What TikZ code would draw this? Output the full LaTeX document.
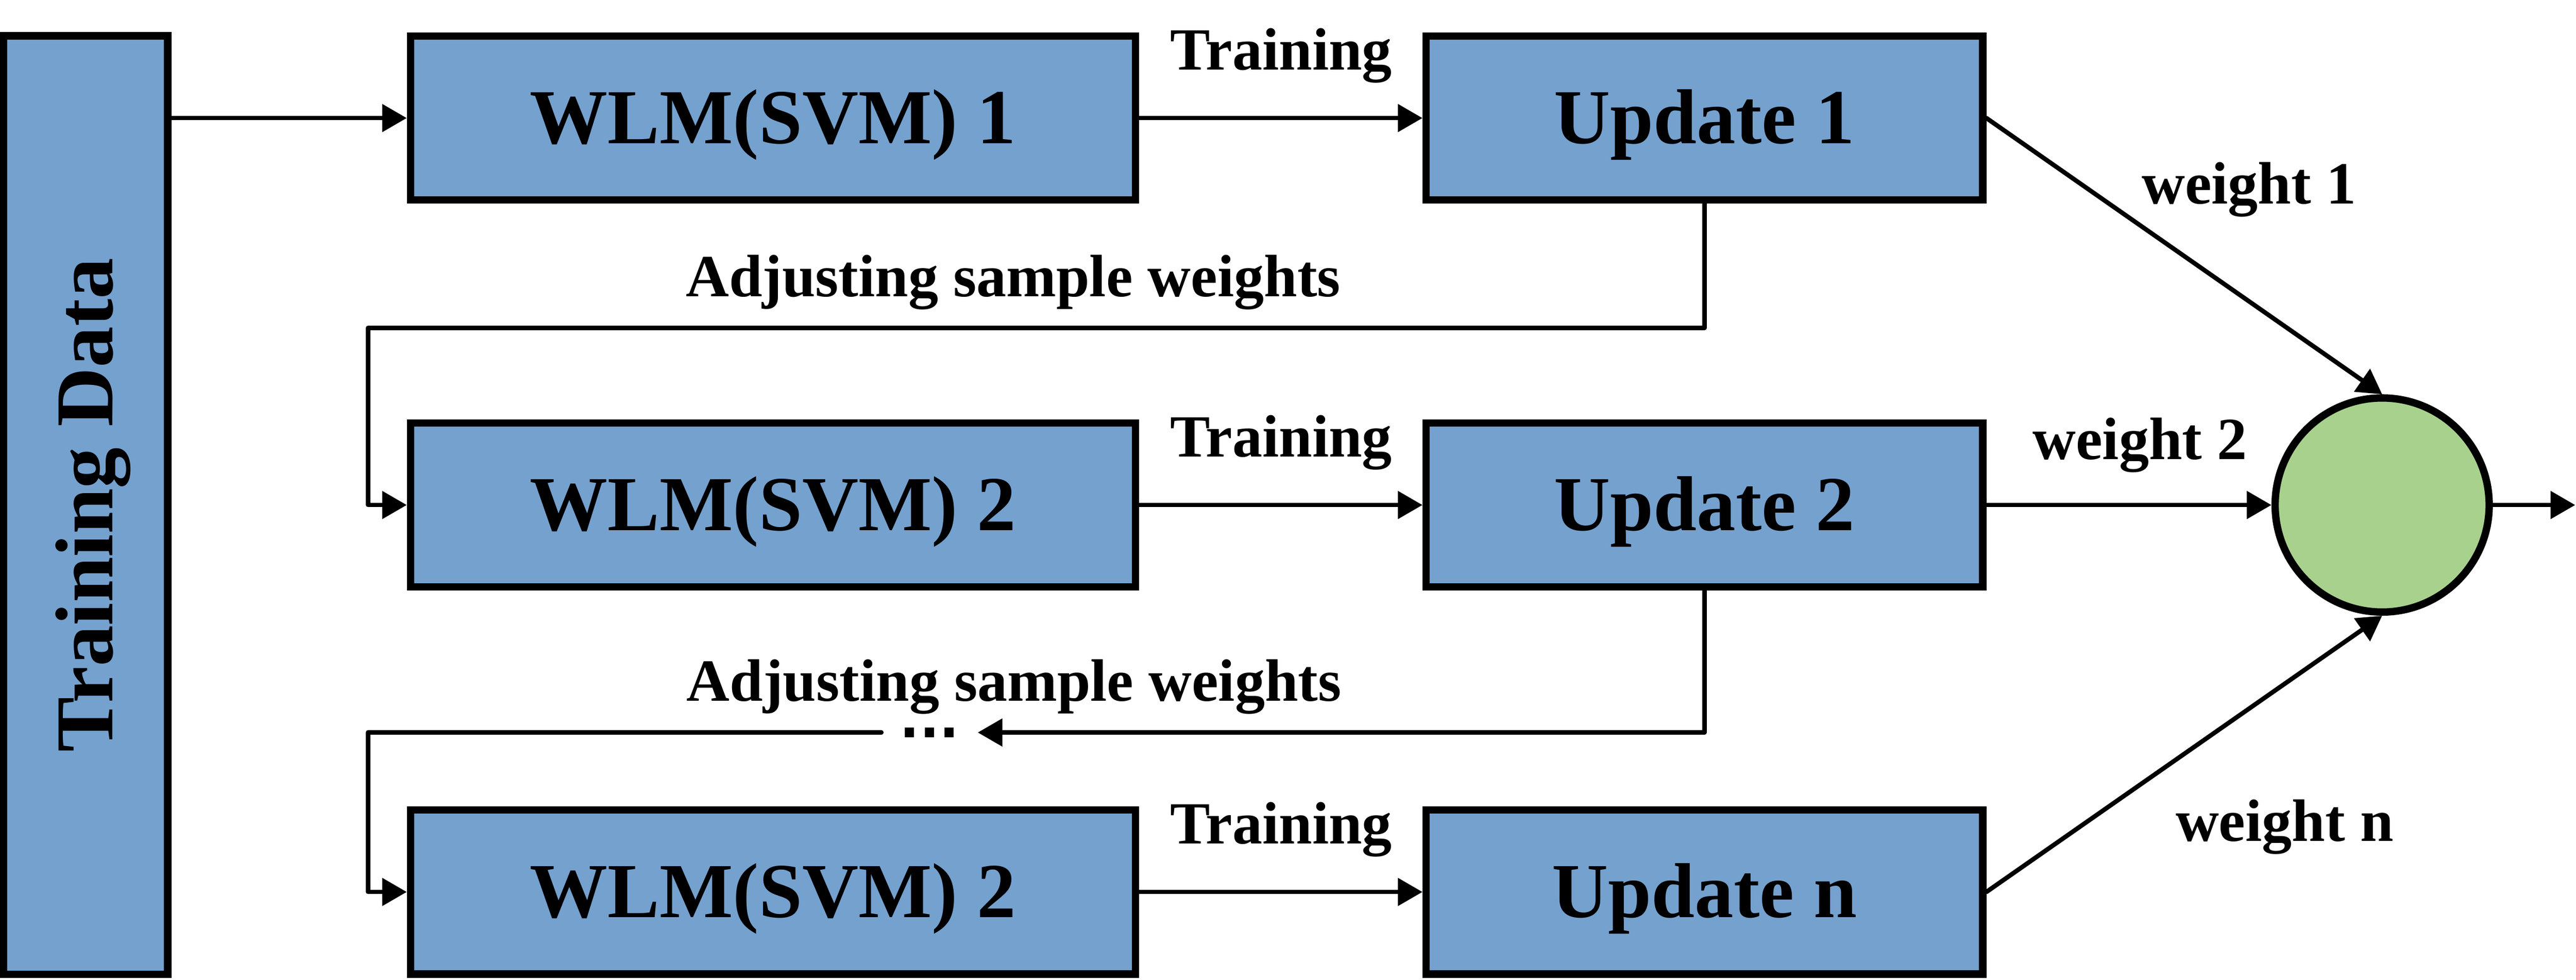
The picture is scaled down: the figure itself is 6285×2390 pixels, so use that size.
\documentclass[tikz,border=0pt]{standalone}
\usepackage{graphicx}
\usepackage{fontspec}
\setmainfont{Liberation Serif}
\newfontfamily\dotfont{DejaVu Sans}
\usetikzlibrary{arrows.meta}
\definecolor{boxblue}{RGB}{117,161,206}
\definecolor{sumgreen}{RGB}{169,209,142}
\begin{document}
\begin{tikzpicture}[x=0.01cm, y=-0.01cm,
  boxbase/.style={draw=black, line width=5.12pt, fill=boxblue, inner sep=0pt},
  box/.style={boxbase, font=\fontsize{54}{60}\selectfont\bfseries, text height=35.5pt, text depth=0pt, minimum height=4cm},
  conn/.style={line width=3.1pt, line cap=round, line join=round},
  arr/.style={conn, -{Triangle[length=0.6cm, width=0.66cm]}},
  lab/.style={font=\fontsize{41.5}{48}\selectfont\bfseries, anchor=base, inner sep=0pt}
]
\useasboundingbox (0,0) rectangle (6285,2390);

% training data
\node[boxbase, minimum width=4.0cm, minimum height=22.88cm] (TD) at (209,1232)
  {\rotatebox{90}{\fontsize{57}{60}\selectfont\bfseries\raisebox{0pt}[37.5pt][0pt]{Training Data}}};

% rows
\node[box, minimum width=17.68cm] (W1) at (1886,288) {WLM(SVM) 1};
\node[box, minimum width=13.57cm] (U1) at (4158.5,288) {Update 1};
\node[box, minimum width=17.68cm] (W2) at (1886,1232) {WLM(SVM) 2};
\node[box, minimum width=13.57cm] (U2) at (4158.5,1232) {Update 2};
\node[box, minimum width=17.68cm] (W3) at (1886,2176) {WLM(SVM) 2};
\node[box, minimum width=13.57cm] (U3) at (4158.5,2176) {Update n};

% combiner
\node[draw=black, line width=5.12pt, fill=sumgreen, circle, minimum size=5.22cm, inner sep=0pt] (C) at (5812,1232) {};

% helper points
\coordinate (k1) at (898,800);
\coordinate (k2) at (898,1787);
\coordinate (out) at (6283,1232);
\node[font=\dotfont\bfseries\fontsize{36}{40}\selectfont, inner sep=0pt, outer sep=0pt, minimum width=2.35cm] (dots) at (2268,1787) {...};

% connectors
\draw[arr] (W1.west -| TD.east) -- (W1.west);
\draw[arr] (W1) -- (U1);
\draw[arr] (W2) -- (U2);
\draw[arr] (W3) -- (U3);
\draw[arr] (U1.south) |- (k1) |- (W2.west);
\draw[arr] (U2.south) |- (dots.east);
\draw[arr] (dots.west) -- (k2) |- (W3.west);
\draw[arr] (U1.east) -- (C.north);
\draw[arr] (U2.east) -- (C.west);
\draw[arr] (U3.east) -- (C.south);
\draw[arr] (C.east) -- (out);

% labels
\node[lab] (t1) at (3126,170) {Training};
\node[lab] (t2) at (3126,1114) {Training};
\node[lab] (t3) at (3126,2058) {Training};
\node[lab] (a1) at (2472,723) {Adjusting sample weights};
\node[lab] (a2) at (2474,1710) {Adjusting sample weights};
\node[lab] (w1) at (5487,497) {weight 1};
\node[lab] (w2) at (5221,1121) {weight 2};
\node[lab] (wn) at (5574,2052) {weight n};
\end{tikzpicture}
\end{document}
